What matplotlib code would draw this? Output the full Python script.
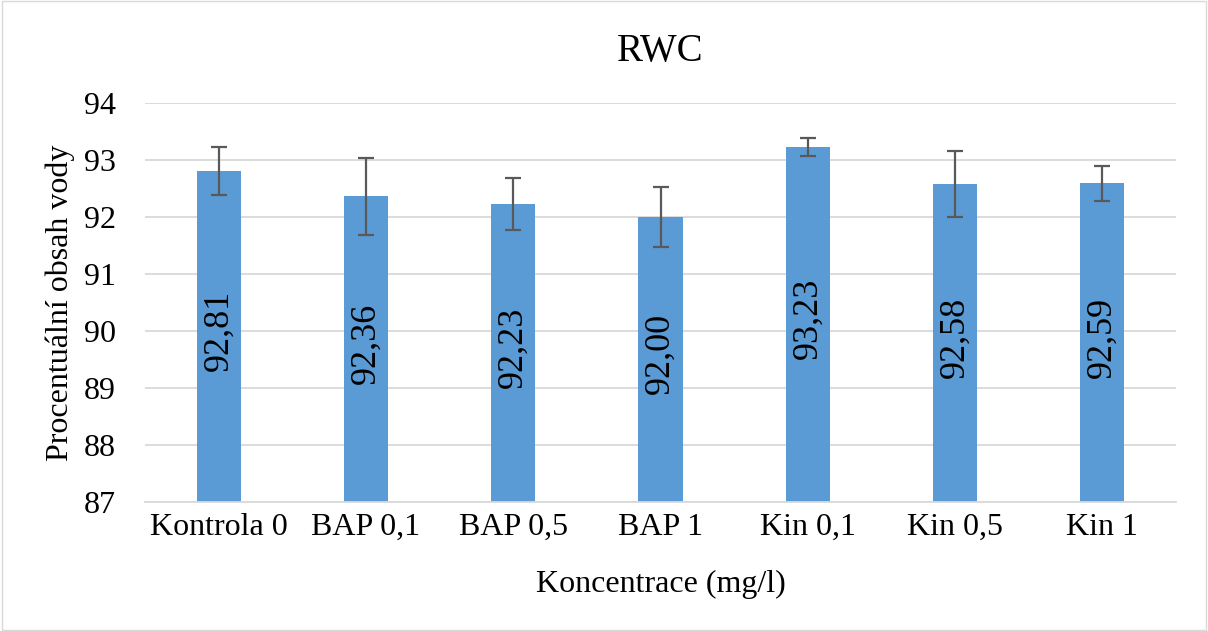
import matplotlib
matplotlib.use('Agg')
import matplotlib.pyplot as plt
from matplotlib.patches import Rectangle
import numpy as np

categories = ['Kontrola 0', 'BAP 0,1', 'BAP 0,5', 'BAP 1', 'Kin 0,1', 'Kin 0,5', 'Kin 1']
values = [92.81, 92.36, 92.23, 92.00, 93.23, 92.58, 92.59]
errors = [0.42, 0.67, 0.46, 0.52, 0.16, 0.58, 0.31]
yticks = [87, 88, 89, 90, 91, 92, 93, 94]

plt.rcParams['font.family'] = ['Liberation Serif', 'DejaVu Serif']

fig = plt.figure(figsize=(12.08, 6.31), dpi=100)
ax = fig.add_axes([145 / 1208, 1 - 502 / 631, 1031 / 1208, 399 / 631])

x = np.arange(len(categories))
ax.bar(x, values, width=0.3, color='#5B9BD5', zorder=2)
ax.errorbar(x, values, yerr=errors, fmt='none', ecolor='#595959',
            elinewidth=1.6, capsize=6, capthick=1.6, zorder=3)

for xi, v in zip(x, values):
    label = ('%.2f' % v).replace('.', ',')
    ax.text(xi, (87 + v) / 2 + 0.1, label, rotation=90, ha='center', va='center',
            fontsize=26, color='black', zorder=4)

ax.set_ylim(87, 94)
ax.set_xlim(-0.5, len(categories) - 0.5)
ax.set_yticks(yticks)
ax.set_yticklabels([str(t) for t in yticks], fontsize=23)
ax.set_xticks(x)
ax.set_xticklabels(categories, fontsize=23)
ax.tick_params(axis='x', length=0, pad=8)
ax.tick_params(axis='y', length=0, pad=21)
ax.grid(axis='y', color='#d9d9d9', linewidth=1.3, zorder=0)
for s in ['top', 'right', 'left']:
    ax.spines[s].set_visible(False)
ax.spines['bottom'].set_color('#d9d9d9')
ax.spines['bottom'].set_linewidth(1.3)

ax.set_title('RWC', fontsize=28, pad=30)
ax.set_ylabel('Procentuální obsah vody', fontsize=23, labelpad=6)
ax.set_xlabel('Koncentrace (mg/l)', fontsize=23, labelpad=20)

fig.patches.append(Rectangle((0.002, 0.002), 0.996, 0.996, transform=fig.transFigure,
                             fill=False, edgecolor='#d9d9d9', linewidth=1))

plt.savefig('out.png', dpi=100)
